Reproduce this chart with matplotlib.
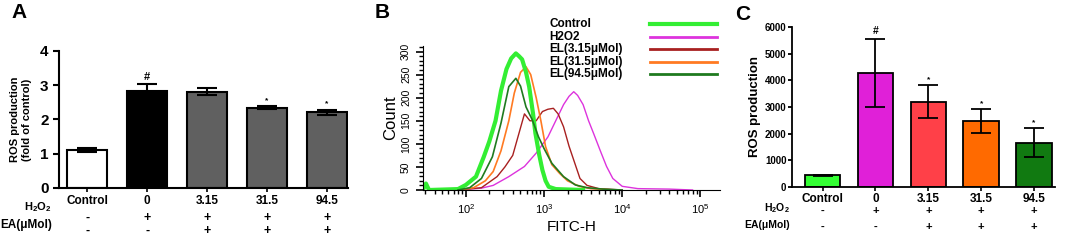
import numpy as np
import matplotlib
matplotlib.use("Agg")
import matplotlib.pyplot as plt
from matplotlib.ticker import MultipleLocator, LogLocator, NullFormatter
from matplotlib.lines import Line2D

plt.rcParams['font.family'] = ['Liberation Sans', 'DejaVu Sans']
plt.rcParams['mathtext.fontset'] = 'custom'
plt.rcParams['mathtext.rm'] = 'Liberation Sans'
plt.rcParams['mathtext.bf'] = 'Liberation Sans:bold'

# ---- data ----
groups = ['Control', '0', '3.15', '31.5', '94.5']
h2o2_row = ['-', '+', '+', '+', '+']
ea_row = ['-', '-', '+', '+', '+']

# panel A
fold_mean = [1.1, 2.82, 2.81, 2.34, 2.21]
fold_err = [0.06, 0.22, 0.11, 0.04, 0.08]
fold_marks = ['', '#', '', '*', '*']
fold_colors = ['white', 'black', '#606060', '#606060', '#606060']

# panel B (log10 FITC-H, count)
ctrl_x = [1.45, 1.49, 1.53, 1.9, 2.0, 2.13, 2.23, 2.3, 2.38, 2.45, 2.52, 2.58, 2.64, 2.68, 2.72, 2.77, 2.81, 2.86, 2.89, 2.94, 2.98, 3.02, 3.06, 3.15, 3.5]
ctrl_y = [0, 14, 0, 2, 11, 29, 72, 105, 150, 215, 262, 285, 296, 290, 283, 255, 224, 165, 123, 75, 43, 20, 7, 2, 0]
h2o2_x = [1.9, 2.2, 2.35, 2.55, 2.75, 2.9, 3.05, 3.15, 3.25, 3.32, 3.38, 3.43, 3.5, 3.57, 3.64, 3.72, 3.8, 3.88, 4.0, 4.2, 4.6, 4.9]
h2o2_y = [0, 4, 10, 29, 51, 80, 115, 150, 185, 203, 213, 205, 185, 150, 120, 85, 51, 25, 8, 3, 2, 0]
el315_x = [1.9, 2.2, 2.4, 2.5, 2.6, 2.68, 2.75, 2.82, 2.9, 2.98, 3.05, 3.12, 3.18, 3.25, 3.32, 3.39, 3.46, 3.55, 3.7, 4.0]
el315_y = [0, 5, 29, 50, 75, 123, 165, 150, 150, 170, 175, 177, 165, 137, 95, 60, 25, 10, 3, 0]
el31_x = [1.9, 2.1, 2.25, 2.35, 2.45, 2.55, 2.62, 2.7, 2.77, 2.83, 2.9, 2.96, 3.02, 3.1, 3.2, 3.3, 3.45, 3.6, 3.9]
el31_y = [0, 5, 20, 40, 85, 150, 210, 255, 267, 250, 200, 150, 94, 55, 36, 20, 8, 3, 0]
el94_x = [1.9, 2.05, 2.2, 2.34, 2.45, 2.55, 2.64, 2.7, 2.77, 2.85, 2.93, 3.0, 3.1, 3.25, 3.4, 3.55, 3.75, 4.0]
el94_y = [0, 5, 25, 72, 145, 224, 242, 225, 180, 152, 115, 90, 58, 29, 11, 5, 2, 0]
flow_labels = ['Control', 'H2O2', 'EL(3.15μMol)', 'EL(31.5μMol)', 'EL(94.5μMol)']
flow_colors = ['#33ee33', '#dd33dd', '#a82020', '#ff7a22', '#1f7a1f']

# panel C
ros_mean = [430, 4270, 3190, 2470, 1660]
ros_err = [30, 1290, 620, 455, 540]
ros_marks = ['', '#', '*', '*', '*']
ros_colors = ['#33ff33', '#e020d8', '#ff4048', '#ff6a00', '#117a11']

fig = plt.figure(figsize=(10.65, 2.4), dpi=100)

# ---------- A ----------
axA = fig.add_axes([0.0554, 0.2167, 0.2714, 0.571])
xs = np.arange(len(groups))
axA.bar(xs, fold_mean, width=0.67, color=fold_colors, edgecolor='black', linewidth=1.5, zorder=2)
axA.errorbar(xs, fold_mean, yerr=fold_err, fmt='none', ecolor='black', elinewidth=1.5, capsize=7, capthick=1.5, zorder=3)
for x, m, e, s in zip(xs, fold_mean, fold_err, fold_marks):
    if s:
        axA.text(x, m + e + 0.06, s, ha='center', va='bottom', fontsize=8 if s == '#' else 6, fontweight='bold')
axA.set_xlim(-0.47, 4.35)
axA.set_ylim(0, 4)
axA.set_yticks([0, 1, 2, 3, 4])
axA.tick_params(axis='y', labelsize=11, width=1.5, length=4)
axA.set_xticks(xs)
axA.set_xticklabels(groups, fontsize=8.5, fontweight='bold')
axA.tick_params(axis='x', width=1.2, length=3, pad=2)
for t in axA.get_yticklabels():
    t.set_fontweight('bold')
for sp in ['top', 'right']:
    axA.spines[sp].set_visible(False)
for sp in ['left', 'bottom']:
    axA.spines[sp].set_linewidth(1.5)
axA.set_ylabel('ROS production\n(fold of control)', fontsize=8, fontweight='bold', labelpad=6)
fig.text(0.0488, 1 - 207 / 240, r'$\mathbf{H_2O_2}$', ha='right', va='center', fontsize=8)
fig.text(0.0488, 1 - 225 / 240, 'EA(μMol)', ha='right', va='center', fontsize=8.5, fontweight='bold')
for x, a, b in zip(xs, h2o2_row, ea_row):
    axA.text(x, -0.22, a, transform=axA.get_xaxis_transform(), ha='center', va='center', fontsize=9, fontweight='bold')
    axA.text(x, -0.315, b, transform=axA.get_xaxis_transform(), ha='center', va='center', fontsize=9, fontweight='bold')
fig.text(0.011, 0.95, 'A', fontsize=15, fontweight='bold', va='center')

# ---------- B ----------
axB = fig.add_axes([0.397, 0.2083, 0.279, 0.6])
curves = [(ctrl_x, ctrl_y), (h2o2_x, h2o2_y), (el315_x, el315_y), (el31_x, el31_y), (el94_x, el94_y)]
widths = [3.0, 1.0, 1.0, 1.2, 1.2]
order = [1, 2, 3, 0, 4]
for i in order:
    cx, cy = curves[i]
    axB.plot(np.power(10.0, cx), cy, color=flow_colors[i], lw=widths[i])
axB.set_xscale('log')
axB.set_xlim(10 ** 1.45, 10 ** 5.25)
axB.set_ylim(0, 312)
axB.xaxis.set_major_locator(LogLocator(base=10, numticks=10))
axB.xaxis.set_minor_locator(LogLocator(base=10, subs=np.arange(2, 10), numticks=20))
axB.xaxis.set_minor_formatter(NullFormatter())
axB.yaxis.set_major_locator(MultipleLocator(50))
axB.yaxis.set_minor_locator(MultipleLocator(10))
axB.tick_params(axis='both', which='major', length=5, width=1.2, labelsize=8)
axB.tick_params(axis='both', which='minor', length=3, width=1.0)
axB.set_xticks([1e2, 1e3, 1e4, 1e5])
for t in axB.get_yticklabels():
    t.set_rotation(90)
    t.set_fontsize(7.5)
    t.set_va('center')
for sp in ['top', 'right']:
    axB.spines[sp].set_visible(False)
axB.set_ylabel('Count', fontsize=12, family=['Liberation Sans Narrow', 'Liberation Sans'], labelpad=2)
axB.set_xlabel('FITC-H', fontsize=11, labelpad=3)
leg_rows = [24, 36.5, 49, 61.5, 74]
leg_widths = [3.0, 2.0, 2.0, 2.0, 2.0]
for lab, col, w, yp in zip(flow_labels, flow_colors, leg_widths, leg_rows):
    y = 1 - yp / 240
    fig.text(549 / 1065, y, lab, fontsize=8.5, fontweight='bold', va='center')
    fig.add_artist(Line2D([650 / 1065, 717 / 1065], [y, y], color=col, lw=w))
fig.text(0.352, 0.95, 'B', fontsize=15, fontweight='bold', va='center')

# ---------- C ----------
axC = fig.add_axes([0.7437, 0.221, 0.247, 0.667])
axC.bar(xs, ros_mean, width=0.67, color=ros_colors, edgecolor='black', linewidth=1.3, zorder=2)
axC.errorbar(xs, ros_mean, yerr=ros_err, fmt='none', ecolor='black', elinewidth=1.3, capsize=7, capthick=1.3, zorder=3)
for x, m, e, s in zip(xs, ros_mean, ros_err, ros_marks):
    if s:
        axC.text(x, m + e + 80, s, ha='center', va='bottom', fontsize=7.5 if s == '#' else 6, fontweight='bold')
axC.set_xlim(-0.58, 4.4)
axC.set_ylim(0, 6000)
axC.set_yticks(np.arange(0, 6001, 1000))
axC.tick_params(axis='y', labelsize=7, width=1.3, length=3, pad=1)
for t in axC.get_yticklabels():
    t.set_fontweight('bold')
axC.set_xticks(xs)
axC.set_xticklabels(groups, fontsize=8.5, fontweight='bold')
axC.tick_params(axis='x', width=1.2, length=3, pad=1)
for sp in ['top', 'right']:
    axC.spines[sp].set_visible(False)
for sp in ['left', 'bottom']:
    axC.spines[sp].set_linewidth(1.3)
axC.set_ylabel('ROS production', fontsize=9.5, fontweight='bold', labelpad=3)
axC.text(-0.01, -0.135, r'$\mathbf{H_2O_2}$', transform=axC.transAxes, ha='right', va='center', fontsize=7.5)
axC.text(-0.01, -0.24, 'EA(μMol)', transform=axC.transAxes, ha='right', va='center', fontsize=7.5, fontweight='bold')
for x, a, b in zip(xs, h2o2_row, ea_row):
    axC.text(x, -0.15, a, transform=axC.get_xaxis_transform(), ha='center', va='center', fontsize=8, fontweight='bold')
    axC.text(x, -0.25, b, transform=axC.get_xaxis_transform(), ha='center', va='center', fontsize=8, fontweight='bold')
fig.text(0.69, 0.94, 'C', fontsize=15, fontweight='bold', va='center')

fig.savefig('out.png', dpi=100)
